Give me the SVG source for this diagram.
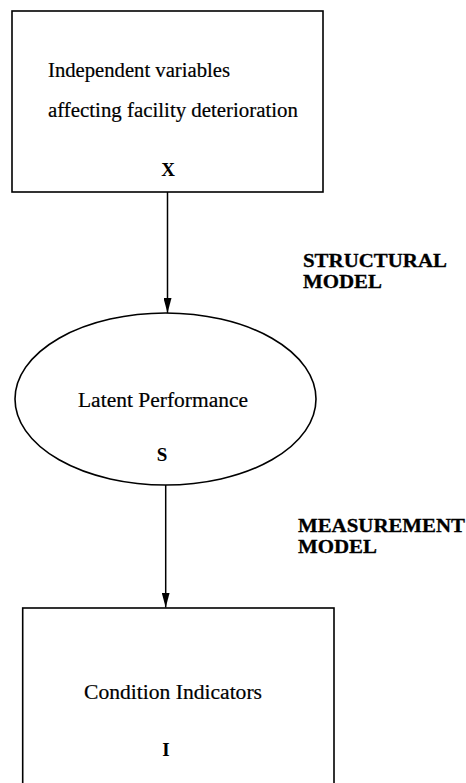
<svg xmlns="http://www.w3.org/2000/svg" width="466" height="783" viewBox="0 0 466 783">
  <style>
    .shape { fill: none; stroke: #000; stroke-width: 1.6; }
    .label { font-family: "Liberation Serif", "Times New Roman", serif; font-size: 20px; fill: #000; stroke: #000; stroke-width: 0.2; }
    .sym { font-family: "Liberation Serif", "Times New Roman", serif; font-size: 19px; font-weight: bold; fill: #000; text-anchor: middle; }
    .model { font-family: "Liberation Serif", "Times New Roman", serif; font-size: 19px; font-weight: bold; fill: #000; stroke: #000; stroke-width: 0.3; }
    .edge { stroke: #000; stroke-width: 1.5; fill: none; }
  </style>
  <defs>
    <marker id="arrow" markerWidth="15" markerHeight="8" refX="15" refY="4" orient="auto" markerUnits="userSpaceOnUse" viewBox="0 0 15 8">
      <path d="M0,0 L15,4 L0,8 Z" fill="#000"/>
    </marker>
  </defs>
  <rect width="466" height="783" fill="#fff"/>

  <g id="node-x">
    <rect class="shape" x="12" y="11" width="311" height="181"/>
    <text class="label" x="48" y="77" textLength="182" lengthAdjust="spacingAndGlyphs">Independent variables</text>
    <text class="label" x="48" y="117" textLength="250" lengthAdjust="spacingAndGlyphs">affecting facility deterioration</text>
    <text class="sym" x="168" y="176">X</text>
  </g>

  <g id="node-s">
    <ellipse class="shape" cx="165.5" cy="399" rx="150.5" ry="86"/>
    <text class="label" x="78" y="407" textLength="170" lengthAdjust="spacingAndGlyphs">Latent  Performance</text>
    <text class="sym" x="162" y="461">S</text>
  </g>

  <g id="node-i">
    <rect class="shape" x="22.7" y="608" width="311.3" height="200"/>
    <text class="label" x="84" y="699" textLength="178" lengthAdjust="spacingAndGlyphs">Condition  Indicators</text>
    <text class="sym" x="166" y="756">I</text>
  </g>

  <g id="connectors">
    <line class="edge" x1="167.5" y1="192" x2="167.5" y2="313" marker-end="url(#arrow)"/>
    <line class="edge" x1="165.7" y1="485" x2="165.7" y2="607.5" marker-end="url(#arrow)"/>
  </g>

  <g id="labels">
    <text class="model" x="303" y="267" textLength="144" lengthAdjust="spacingAndGlyphs">STRUCTURAL</text>
    <text class="model" x="303" y="288" textLength="79" lengthAdjust="spacingAndGlyphs">MODEL</text>
    <text class="model" x="298" y="532" textLength="167" lengthAdjust="spacingAndGlyphs">MEASUREMENT</text>
    <text class="model" x="298" y="553" textLength="79" lengthAdjust="spacingAndGlyphs">MODEL</text>
  </g>
</svg>
